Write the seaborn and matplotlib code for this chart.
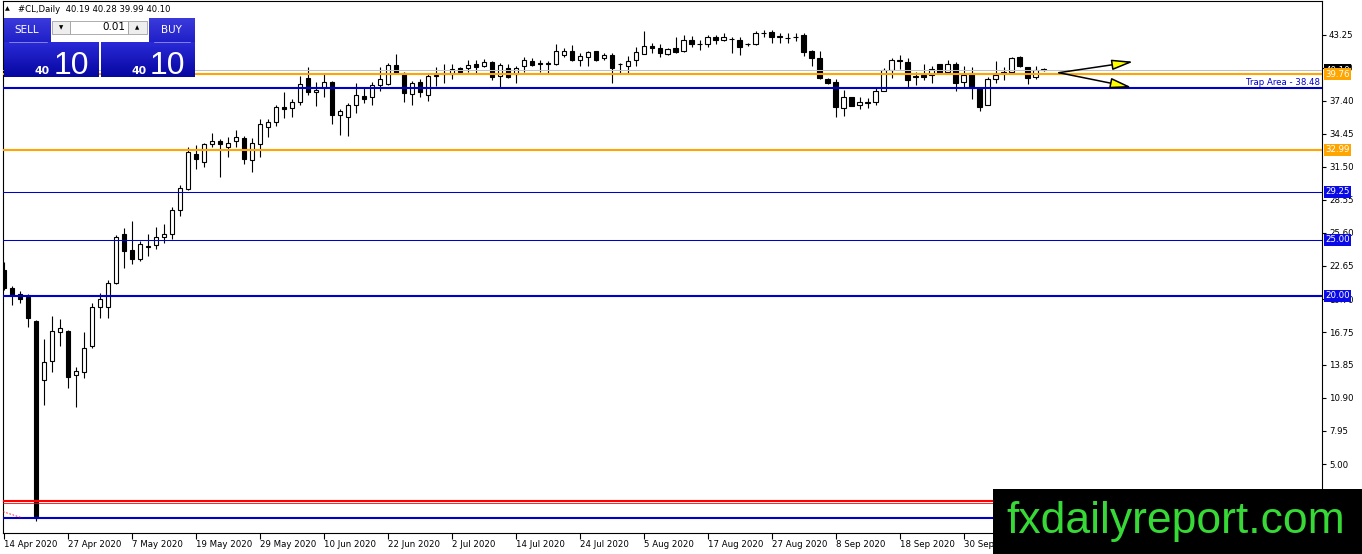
import numpy as np
import pandas as pd
import matplotlib
matplotlib.use("Agg")
import matplotlib.pyplot as plt
import seaborn as sns
from matplotlib.patches import Rectangle, FancyArrowPatch
from matplotlib.colors import LinearSegmentedColormap
from matplotlib.transforms import blended_transform_factory

# ---------------- data ----------------
open_ = [22.29, 20.66, 20.12, 19.91, 17.74, 12.49, 14.15, 16.74, 16.88, 12.91,
         13.23, 15.54, 18.97, 19.02, 21.16, 25.50, 24.07, 23.30, 24.37, 24.49,
         25.26, 25.47, 27.64, 29.48, 32.63, 31.89, 33.49, 33.81, 33.23, 33.81,
         34.06, 32.09, 33.52, 35.06, 35.45, 36.79, 36.70, 37.24, 39.38, 38.13,
         38.49, 39.02, 36.13, 35.90, 37.00, 37.80, 37.68, 38.75, 38.87, 40.56,
         39.88, 37.98, 39.02, 37.89, 39.58, 39.76, 39.73, 40.26, 40.26, 40.65,
         40.44, 40.83, 39.55, 40.26, 39.76, 40.44, 40.92, 40.71, 40.65, 40.65,
         41.45, 41.84, 40.97, 41.27, 41.78, 41.18, 41.45, 40.62, 40.44, 40.97,
         41.52, 42.25, 42.05, 41.54, 42.05, 41.78, 42.76, 42.43, 42.43, 43.03,
         42.79, 42.88, 42.79, 42.40, 42.43, 43.40, 43.52, 43.10, 42.97, 43.06,
         43.24, 41.78, 41.19, 39.29, 39.05, 36.70, 37.68, 37.00, 37.20, 37.30,
         38.27, 40.11, 40.94, 40.79, 39.52, 39.70, 39.67, 40.62, 39.96, 40.62,
         39.09, 39.82, 38.49, 37.00, 39.29, 39.82, 39.91, 41.27, 40.38, 39.52,
         40.19]
high = [23.03, 20.89, 20.44, 20.12, 17.80, 16.11, 18.19, 17.92, 16.94, 13.62,
        16.79, 19.38, 20.27, 21.40, 25.41, 26.06, 26.66, 24.87, 25.47, 26.15,
        26.36, 27.88, 29.87, 33.23, 33.43, 33.64, 34.53, 33.94, 34.12, 34.77,
        34.23, 34.03, 35.75, 35.75, 36.99, 38.18, 37.50, 39.58, 40.41, 39.07,
        39.88, 39.10, 36.64, 37.20, 38.93, 38.63, 39.07, 40.41, 40.71, 41.54,
        39.96, 39.16, 39.29, 39.88, 40.41, 40.62, 40.65, 40.35, 41.00, 41.00,
        41.06, 40.95, 40.71, 40.65, 40.47, 41.27, 41.16, 41.00, 40.95, 42.43,
        42.05, 42.34, 41.63, 41.78, 41.84, 41.63, 41.63, 40.77, 41.33, 42.13,
        43.59, 42.55, 42.41, 42.10, 43.03, 43.24, 43.15, 42.79, 43.24, 43.24,
        43.39, 43.03, 43.03, 42.55, 43.61, 43.67, 43.67, 43.43, 43.43, 43.39,
        43.39, 41.90, 41.78, 39.38, 39.29, 38.33, 37.70, 37.74, 37.59, 38.49,
        40.32, 41.19, 41.45, 41.19, 39.96, 40.65, 40.44, 40.65, 40.97, 40.79,
        40.44, 40.36, 38.63, 39.52, 40.88, 40.36, 41.27, 41.36, 40.41, 40.47,
        40.28]
low = [20.50, 19.17, 19.32, 17.24, -0.05, 10.26, 13.23, 15.54, 11.80, 10.05,
       12.64, 15.31, 17.99, 17.99, 21.04, 22.50, 22.83, 23.12, 23.57, 24.14,
       24.72, 25.09, 27.13, 29.42, 31.26, 31.50, 33.23, 30.61, 32.39, 33.30,
       31.74, 31.06, 32.34, 34.17, 35.12, 35.81, 35.95, 36.97, 37.89, 36.93,
       37.68, 35.30, 34.32, 34.26, 36.31, 37.15, 37.00, 38.27, 38.78, 39.82,
       37.24, 36.97, 37.68, 37.38, 38.72, 39.00, 39.34, 39.76, 39.96, 39.82,
       40.38, 39.22, 38.49, 39.38, 39.00, 39.96, 40.44, 39.96, 39.82, 40.56,
       41.27, 40.88, 40.47, 40.47, 40.88, 40.97, 39.00, 39.82, 39.82, 40.44,
       41.52, 41.63, 41.27, 41.45, 41.63, 41.70, 42.21, 41.90, 42.21, 42.43,
       42.67, 41.63, 41.45, 42.25, 42.34, 43.08, 42.52, 42.55, 42.55, 42.67,
       41.33, 40.47, 39.29, 38.87, 35.95, 36.02, 36.88, 36.61, 36.70, 37.00,
       38.27, 39.38, 40.20, 38.49, 38.78, 39.22, 39.00, 39.82, 39.82, 38.27,
       38.49, 37.50, 36.49, 37.00, 39.00, 39.19, 39.91, 40.41, 38.87, 39.29,
       39.99]
close = [20.66, 20.06, 19.68, 18.04, 0.16, 14.12, 16.85, 17.09, 12.78, 13.29,
         15.31, 19.02, 19.68, 21.11, 25.26, 24.01, 23.30, 24.58, 24.43, 25.26,
         25.47, 27.64, 29.63, 32.78, 32.21, 33.49, 33.81, 33.49, 33.64, 34.12,
         32.16, 33.58, 35.27, 35.50, 36.79, 36.67, 37.24, 38.84, 38.13, 38.33,
         39.02, 36.08, 36.44, 36.97, 37.86, 37.56, 38.75, 39.29, 40.56, 39.88,
         38.04, 38.93, 38.13, 39.58, 39.64, 39.82, 40.20, 39.96, 40.56, 40.36,
         40.83, 39.46, 40.56, 39.46, 40.32, 40.97, 40.56, 40.65, 40.71, 41.84,
         41.84, 40.97, 41.33, 41.70, 41.01, 41.45, 40.26, 40.65, 40.92, 41.70,
         42.25, 42.05, 41.63, 41.96, 41.70, 42.76, 42.41, 42.46, 43.08, 42.76,
         43.03, 42.91, 42.21, 42.46, 43.43, 43.43, 43.03, 43.15, 43.00, 43.03,
         41.70, 41.19, 39.38, 39.00, 36.79, 37.68, 36.91, 37.30, 37.24, 38.27,
         40.11, 40.97, 40.97, 39.22, 39.55, 39.46, 40.17, 39.88, 40.62, 39.00,
         39.67, 38.49, 36.85, 39.29, 39.67, 39.96, 41.19, 40.44, 39.38, 40.11,
         40.10]
date_labels = ["14 Apr 2020", "27 Apr 2020", "7 May 2020", "19 May 2020",
               "29 May 2020", "10 Jun 2020", "22 Jun 2020", "2 Jul 2020",
               "14 Jul 2020", "24 Jul 2020", "5 Aug 2020", "17 Aug 2020",
               "27 Aug 2020", "8 Sep 2020", "18 Sep 2020", "30 Sep 2020"]
date_bars = [0, 8, 16, 24, 32, 40, 48, 56, 64, 72, 80, 88, 96, 104, 112, 120]
price_ticks = [43.25, 40.30, 37.40, 34.45, 31.50, 28.55, 25.60, 22.65, 19.70,
               16.75, 13.85, 10.90, 7.95, 5.00, 2.05]
level_prices = [40.10, 39.76, 38.48, 32.99, 29.25, 25.00, 20.00, 1.73, 1.55, 0.19]
level_colors = ["#C0C0C0", "#FFA500", "#0000CD", "#FFA500", "#0000CD",
                "#0000CD", "#0000CD", "#FF0000", "#FF0000", "#0000CD"]
level_widths = [0.75, 1.5, 1.5, 1.5, 0.75, 0.75, 1.5, 1.5, 0.6, 1.5]
box_prices = [40.10, 39.76, 32.99, 29.25, 25.00, 20.00]
box_texts = ["40.10", "39.76", "32.99", "29.25", "25.00", "20.00"]
box_colors = ["#000000", "#FFA500", "#FFA500", "#0A0AE6", "#0A0AE6", "#0A0AE6"]
trap_label = "Trap Area - 38.48"
trap_price = 38.48
arrow_start = (131.9, 39.88)
arrow_ends = [(141.2, 40.86), (141.0, 38.57)]
title_text = "#CL,Daily  40.19 40.28 39.99 40.10"

# ---------------- figure ----------------
sns.set_theme(style="white")
plt.rcParams["font.family"] = ["DejaVu Sans"]

W, H = 1362, 554
fig = plt.figure(figsize=(W / 100, H / 100), dpi=100)
fig.patch.set_facecolor("white")
ax = fig.add_axes([3 / W, (H - 533) / H, (1322 - 3) / W, (533 - 1) / H])
ax.set_facecolor("white")

df = pd.DataFrame({"open": open_, "high": high, "low": low, "close": close})
df["bar"] = np.arange(len(df))
up = df["close"] >= df["open"]
bottom = np.minimum(df["open"], df["close"])
height = np.maximum((df["close"] - df["open"]).abs(), 0.04)

ax.vlines(df["bar"], df["low"], df["high"], color="black", lw=0.8, zorder=2)
ax.bar(df["bar"][up], height[up], bottom=bottom[up], width=0.55,
       color="white", edgecolor="black", linewidth=0.8, zorder=3)
ax.bar(df["bar"][~up], height[~up], bottom=bottom[~up], width=0.55,
       color="black", edgecolor="black", linewidth=0.8, zorder=3)

for p, c, w in zip(level_prices, level_colors, level_widths):
    ax.axhline(p, color=c, lw=w, zorder=4)

# small red dashed trace at bottom-left
ax.plot([-0.1, 2.3], [0.75, 0.2], color="#FF0000", lw=0.6, ls=(0, (2, 2)), zorder=4)

ax.text(164.5, trap_price + 0.12, trap_label, ha="right", va="bottom",
        color="#0000CD", fontsize=6.2, zorder=5)

# arrows
for end in arrow_ends:
    arr = FancyArrowPatch(arrow_start, end,
                          arrowstyle="-|>,head_length=1.3,head_width=0.32",
                          mutation_scale=10, fc="#FFFF00", ec="black",
                          lw=1.1, zorder=6, shrinkA=0, shrinkB=0)
    ax.add_patch(arr)

ax.set_xlim(-0.1, 164.8)
ax.set_ylim(-1.15, 46.27)
ax.yaxis.tick_right()
ax.set_yticks(price_ticks)
ax.set_yticklabels([f"{t:.2f}" for t in price_ticks])
ax.set_xticks(date_bars)
ax.set_xticklabels(date_labels)
for lbl in ax.get_xticklabels():
    lbl.set_horizontalalignment("left")
ax.tick_params(axis="y", which="both", right=True, left=False, length=3,
               width=0.8, pad=2, labelsize=6.2, colors="black")
ax.tick_params(axis="x", which="both", bottom=True, length=4, width=0.8,
               pad=1, labelsize=6.2, colors="black")
for s in ax.spines.values():
    s.set_color("black")
    s.set_linewidth(0.8)
    s.set_visible(True)
ax.grid(False)

bt = blended_transform_factory(ax.transAxes, ax.transData)
for p, t, c in zip(box_prices, box_texts, box_colors):
    ax.text(1.0025, p, t, transform=bt, ha="left", va="center", color="white",
            fontsize=6.2, zorder=10, clip_on=False,
            bbox=dict(boxstyle="square,pad=0.18", fc=c, ec="none"))

# ---------------- overlay (panel, title, watermark) ----------------
ov = fig.add_axes([0, 0, 1, 1])
ov.set_zorder(5)
ov.patch.set_alpha(0)
ov.axis("off")

grad = np.linspace(0, 1, 64).reshape(-1, 1)
cm_low = LinearSegmentedColormap.from_list("low", ["#2A2AD8", "#0606A0"])
cm_head = LinearSegmentedColormap.from_list("head", ["#3A3ADC", "#2020C8"])
for (x0, x1) in [(3.5, 98.5), (100.5, 194)]:
    ov.imshow(grad, extent=(x0, x1, 77, 42.5), cmap=cm_low, aspect="auto",
              interpolation="bilinear", zorder=1)
for (x0, x1) in [(3.5, 50.5), (148.5, 194)]:
    ov.imshow(grad, extent=(x0, x1, 42.5, 18.5), cmap=cm_head, aspect="auto",
              interpolation="bilinear", zorder=1)
    ov.plot([x0 + 5, x1 - 4], [41.5, 41.5], color="#9090E8", lw=0.6, zorder=2)

ov.add_patch(Rectangle((52, 21), 18, 12.5, fc="#EEEEEE", ec="#A0A0A0", lw=0.6, zorder=2))
ov.add_patch(Rectangle((70, 21), 58, 12.5, fc="white", ec="#A0A0A0", lw=0.6, zorder=2))
ov.add_patch(Rectangle((128, 21), 19, 12.5, fc="#EEEEEE", ec="#A0A0A0", lw=0.6, zorder=2))
ov.text(61, 27.5, "\u25BC", ha="center", va="center", fontsize=4, color="black", zorder=3)
ov.text(137.5, 27.5, "\u25B2", ha="center", va="center", fontsize=4, color="black", zorder=3)
ov.text(125, 27.5, "0.01", ha="right", va="center", fontsize=7.5, color="black", zorder=3)
ov.text(27, 30, "SELL", ha="center", va="center", fontsize=7.5, color="white", zorder=3)
ov.text(171, 30, "BUY", ha="center", va="center", fontsize=7.5, color="white", zorder=3)
for xr, xl in [(50, 54), (146.5, 150)]:
    ov.text(xr, 74, "40", ha="right", va="baseline", fontsize=7.8,
            fontweight="bold", color="white", zorder=3)
    ov.text(xl, 74, "10", ha="left", va="baseline", fontsize=23,
            family="Liberation Sans", color="white", zorder=3)

ov.text(5, 9, "\u25B2", ha="left", va="center", fontsize=4.5, color="black")
ov.text(18, 9, title_text, ha="left", va="center", fontsize=6.1, color="black")

ov.add_patch(Rectangle((993, 489), 369, 66, fc="black", ec="none", zorder=4))
ov.text(1176, 533, "fxdailyreport.com", ha="center", va="baseline",
        fontsize=32, family="Liberation Sans", color="#36D936", zorder=5)

ov.set_xlim(0, W)
ov.set_ylim(H, 0)

fig.savefig("out.png", dpi=100, facecolor="white")
